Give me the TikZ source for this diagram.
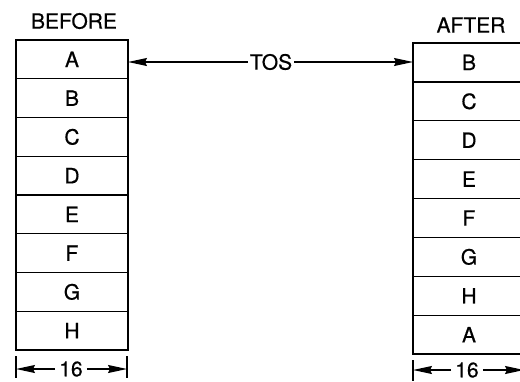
\documentclass[tikz,border=0pt]{standalone}
\usepackage{fontspec}
\setmainfont{TeX Gyre Heros}
\newfontfamily\labfont[FakeBold=0.5]{TeX Gyre Heros}
\usetikzlibrary{arrows.meta}
\begin{document}
\begin{tikzpicture}[x=1pt,y=-1pt,
  cell/.style={draw,line width=1.3pt,minimum width=112pt,minimum height=38.8pt,inner sep=0pt,outer sep=0pt,anchor=north west,font=\labfont\fontsize{21}{21}\selectfont},
  lbl/.style={font=\labfont\fontsize{21}{21}\selectfont,inner sep=1pt},
  arr/.style={line width=1.3pt,-{Stealth[length=19pt,width=8pt,inset=2pt]}},
  tick/.style={line width=1.3pt}]
\clip (0,0) rectangle (520,381);
\useasboundingbox (0,0) rectangle (520,381);
% before stack
\foreach \t [count=\i from 0] in {A,B,C,D,E,F,G,H}
  \node[cell] (L\i) at (16,{40+38.75*\i}) {\t};
% after stack
\foreach \t [count=\i from 0] in {B,C,D,E,F,G,H,A}
  \node[cell] (R\i) at (413,{43+38.9*\i}) {\t};
\node[lbl] (before) at (74,21) {BEFORE};
\node[lbl] (after) at (471,25) {AFTER};
\node[lbl,inner xsep=2pt] (tos) at (271,62) {TOS};
\coordinate (la) at (128,62);
\coordinate (ra) at (413,62);
\draw[arr] (tos.west) -- (la);
\draw[arr] (tos.east) -- (ra);
% left dimension
\node[lbl,inner xsep=4pt] (d1) at (71,369) {16};
\coordinate (l1a) at (16,356); \coordinate (l1b) at (16,378);
\coordinate (l2a) at (127,356); \coordinate (l2b) at (127,378);
\draw[tick] (l1a) -- (l1b);
\draw[tick] (l2a) -- (l2b);
\draw[arr] (d1.west) -- (l1a |- d1);
\draw[arr] (d1.east) -- (l2a |- d1);
% right dimension
\node[lbl,inner xsep=4pt] (d2) at (467,370) {16};
\coordinate (r1a) at (413,360); \coordinate (r1b) at (413,381);
\coordinate (r2a) at (524,360);
\draw[tick] (r1a) -- (r1b);
\draw[arr] (d2.west) -- (r1a |- d2);
\draw[arr] (d2.east) -- (r2a |- d2);
\end{tikzpicture}
\end{document}
